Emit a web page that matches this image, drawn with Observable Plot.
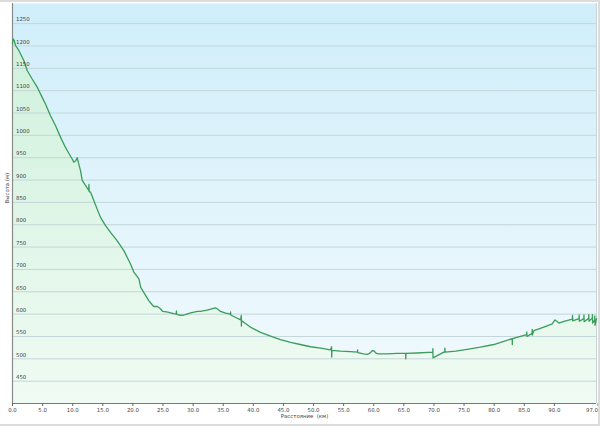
<!DOCTYPE html>
<html>
<head>
<meta charset="utf-8">
<script src="https://cdn.jsdelivr.net/npm/d3@7"></script>
<script src="https://cdn.jsdelivr.net/npm/@observablehq/plot@0.6"></script>
<style>
  html, body { margin: 0; padding: 0; background: #fff; }
  #chart svg { display: block; }
</style>
</head>
<body>
<div id="chart"></div>
<script>
// Distance (km)
const km = [
  0.0, 0.1, 0.3, 0.5, 1.05, 1.9, 2.44, 3.27, 4.1, 4.93, 5.48, 6.31, 7.14, 7.97, 8.8, 9.09,
  9.35, 9.92, 10.18, 10.5, 10.75, 11.0, 11.3, 11.58, 12.13, 12.5, 12.67, 12.7, 12.74, 12.96,
  13.5, 14.6, 15.45, 16.28, 17.4, 18.5, 19.6, 20.15, 21.0, 21.3, 22.1, 22.64, 23.2, 23.47,
  24.04, 24.47, 24.97, 25.58, 25.96, 26.8, 27.2, 27.22, 27.25, 27.6, 28.2, 28.7, 29.6, 30.7,
  31.2, 32.3, 33.7, 34.0, 34.55, 35.4, 36.2, 36.22, 36.25, 37.0, 37.9, 38.0, 38.02, 38.05,
  38.4, 39.5, 41.2, 42.86, 44.5, 46.2, 47.8, 49.5, 51.2, 52.8, 53.0, 53.02, 53.05, 54.5,
  56.1, 57.3, 57.32, 57.35, 58.3, 58.9, 59.3, 59.75, 60.0, 60.45, 60.8, 62.2, 63.9, 64.5,
  65.3, 65.32, 65.35, 67.2, 69.8, 69.82, 69.85, 71.8, 71.82, 71.85, 73.6, 75.5, 77.7, 79.95,
  81.6, 83.0, 83.02, 83.05, 83.8, 85.4, 85.42, 85.45, 86.3, 86.32, 86.35, 86.6, 88.25, 89.65,
  90.1, 90.4, 90.75, 91.6, 93.0, 93.02, 93.05, 94.1, 94.12, 94.15, 94.9, 94.92, 94.95, 95.7,
  95.72, 95.75, 96.3, 96.32, 96.35, 96.7, 96.72, 96.75, 97.0
];
// Elevation (m)
const elev = [
  1205, 1216, 1212, 1201, 1190, 1167, 1145, 1126, 1108, 1085, 1070, 1044, 1022, 996, 973, 966,
  960, 947, 940, 943, 950, 936, 921, 899, 888, 880, 877, 890, 874, 873,
  854, 817, 798, 783, 764, 742, 712, 694, 679, 660, 642, 630, 621, 617,
  617, 613, 606, 605, 604, 601, 600, 607, 600, 598, 597, 599, 603, 606,
  606, 609, 614, 612, 606, 602, 600, 605, 598, 593, 587, 597, 573, 585,
  582, 571, 559, 551, 543, 537, 532, 527, 524, 520, 527, 504, 519, 517,
  516, 515, 520, 514, 511, 510, 512, 518, 518, 512, 511, 511, 512, 512,
  512, 500, 512, 513, 515, 523, 502, 516, 524, 515, 517, 521, 526, 532,
  539, 545, 532, 545, 548, 554, 560, 550, 557, 566, 553, 563, 571, 578,
  587, 584, 580, 584, 589, 597, 585, 590, 598, 584, 590, 598, 583, 591,
  599, 584, 591, 599, 580, 587, 596, 575, 590
];
const yTicks = [450, 500, 550, 600, 650, 700, 750, 800, 850, 900, 950, 1000, 1050, 1100, 1150, 1200, 1250];
const xTicks = [0, 5, 10, 15, 20, 25, 30, 35, 40, 45, 50, 55, 60, 65, 70, 75, 80, 85, 90];
const xEnd = [97];

const data = km.map((k, i) => ({km: k, elev: elev[i]}));

const NS = "http://www.w3.org/2000/svg";
function defsMark() {
  const defs = document.createElementNS(NS, "defs");
  defs.innerHTML = `
    <linearGradient id="bgGrad" gradientUnits="userSpaceOnUse" x1="0" y1="3" x2="0" y2="403">
      <stop offset="0" stop-color="#cfeefa"/>
      <stop offset="1" stop-color="#f3fafd"/>
    </linearGradient>
    <linearGradient id="areaGrad" gradientUnits="userSpaceOnUse" x1="0" y1="3" x2="0" y2="403">
      <stop offset="0" stop-color="#ccf0da"/>
      <stop offset="1" stop-color="#f0fbf3"/>
    </linearGradient>`;
  return defs;
}

const chart = Plot.plot({
  width: 600,
  height: 426,
  marginLeft: 12,
  marginRight: 4,
  marginTop: 3,
  marginBottom: 23,
  style: {fontFamily: "DejaVu Sans", fontSize: "5.4px", color: "#444", background: "#fff"},
  x: {domain: [0, 97], axis: null},
  y: {domain: [400, 1295], axis: null},
  marks: [
    defsMark,
    Plot.frame({fill: "url(#bgGrad)", stroke: null}),
    Plot.areaY(data, {x: "km", y1: 400, y2: "elev", fill: "url(#areaGrad)"}),
    Plot.ruleY(yTicks, {stroke: "#c3d6da", strokeWidth: 1}),
    Plot.ruleX([97], {stroke: "#c8d4d8"}),
    Plot.ruleX([0], {stroke: "#8a8a8a", strokeWidth: 1.2}),
    Plot.ruleY([400], {stroke: "#7a7a7a", strokeWidth: 1}),
    Plot.lineY(data, {x: "km", y: "elev", stroke: "#3a9d5b", strokeWidth: 1.3}),
    Plot.text(yTicks, {x: 0, y: d => d, text: d => String(d), textAnchor: "start", dx: 3.5, dy: -4, fill: "#444"}),
    Plot.axisX(xTicks, {tickSize: 3, tickFormat: d => d.toFixed(1), tickPadding: 2, label: null, stroke: "#666", fill: "#444"}),
    Plot.axisX(xEnd, {tickSize: 3, tickFormat: d => d.toFixed(1), tickPadding: 2, label: null, textAnchor: "end", dx: 1.5, stroke: "#666", fill: "#444"}),
    Plot.text(["Расстояние  (км)"], {frameAnchor: "bottom", text: d => d, dy: 14, fill: "#444"}),
    Plot.text(["Высота (м)"], {frameAnchor: "left", text: d => d, rotate: -90, dx: -5, fill: "#444"})
  ]
});

// outer light-gray border of the picture
const svg = chart.tagName.toLowerCase() === "svg" ? chart : chart.querySelector("svg");
const border = document.createElementNS(NS, "g");
border.innerHTML = `
  <rect x="0" y="0" width="600" height="2" fill="#dcdcdc"/>
  <rect x="598" y="0" width="2" height="426" fill="#dcdcdc"/>
  <rect x="0" y="424" width="600" height="2" fill="#dcdcdc"/>`;
svg.appendChild(border);

document.getElementById("chart").appendChild(chart);
</script>
</body>
</html>
